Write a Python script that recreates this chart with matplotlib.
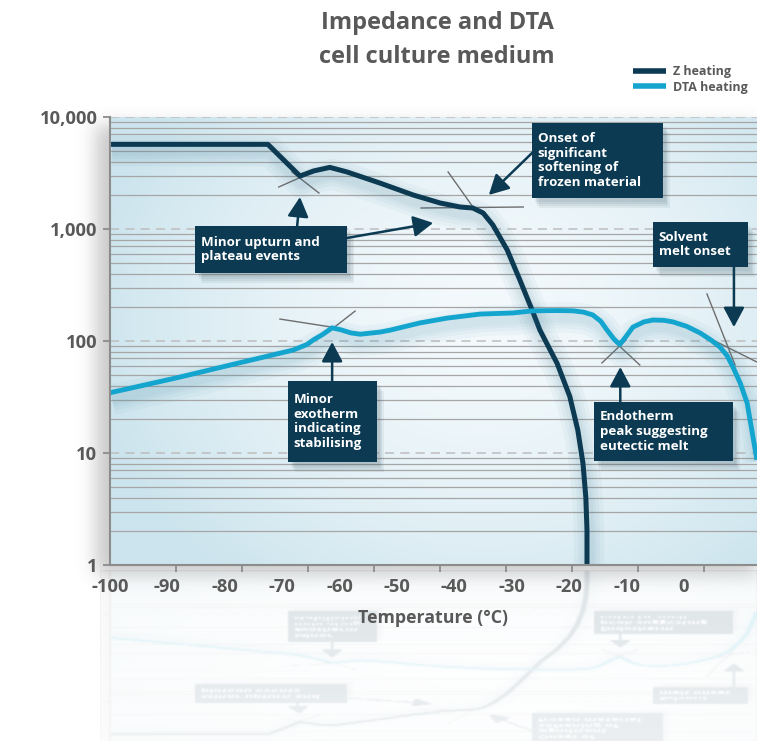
import numpy as np
import matplotlib
matplotlib.use("Agg")
import matplotlib.pyplot as plt
import matplotlib.patheffects as pe
from matplotlib.patches import Rectangle
from matplotlib.ticker import FixedLocator, FixedFormatter, NullFormatter

plt.rcParams['font.family'] = ['Open Sans', 'DejaVu Sans']
plt.rcParams['axes.unicode_minus'] = False

# ---- data -------------------------------------------------------------
z_temp = [-100, -72.5, -66.9, -64.5, -61.7, -58.7, -53.0, -47.2, -42.5, -39.0,
          -36.8, -35.0, -33.3, -30.8, -28.6, -26.3, -25.1, -22.1, -19.9, -18.5,
          -17.6, -17.1, -16.9, -16.9]
z_imp = [5700, 5700, 2970, 3300, 3550, 3230, 2575, 2014, 1708, 1572,
         1540, 1390, 1086, 650, 351, 180, 125, 63, 32, 16,
         8.1, 4.0, 2.05, 1.0]

dta_temp = [-100, -88.3, -76.8, -73.9, -68.1, -65.7, -64.6, -63.0, -61.3, -59.8,
            -58.0, -56.4, -53.0, -51.2, -46.0, -41.3, -35.5, -29.8, -26.3, -22.0,
            -19.3, -17.5, -15.9, -14.5, -13.4, -12.2, -11.2, -10.2, -8.9, -7.0,
            -5.4, -3.5, -1.9, 0.5, 2.8, 4.7, 6.3, 7.5, 8.5, 9.8,
            11.0, 12.7]
dta_sig = [34.5, 47, 65, 70.5, 83, 93, 102, 114, 131, 126,
           118, 115, 120, 125, 145, 160, 174, 178, 186, 187,
           186, 181, 171, 150, 125, 104, 93, 108, 133, 148,
           154, 153, 148, 135, 118, 102, 88, 74, 59, 42,
           28, 8.7]

x_ticks = [-100, -90, -80, -70, -60, -50, -40, -30, -20, -10, 0]
y_ticks = [1, 10, 100, 1000, 10000]
y_tick_labels = ['1', '10', '100', '1,000', '10,000']

NAVY = '#0b3a52'
CYAN = '#14a5cf'
GREY_TXT = '#595959'

# ---- figure / axes ----------------------------------------------------
W, H = 757, 741
fig = plt.figure(figsize=(W / 100, H / 100), dpi=100)
fig.patch.set_facecolor('white')

ax_l, ax_r, ax_t, ax_b = 110, 757, 117, 565
ax = fig.add_axes([ax_l / W, (H - ax_b) / H, (ax_r - ax_l) / W, (ax_b - ax_t) / H])
ax.set_yscale('log')
ax.set_xlim(-100, -100 + (ax_r - ax_l) / 5.74)
ax.set_ylim(1, 10000)

# soft radial backdrop of the plotting area
gy, gx = np.mgrid[0:1:300j, 0:1:400j]
d = np.sqrt(((gx - 0.58) / 0.62) ** 2 + ((gy - 0.45) / 0.75) ** 2)
d = np.clip(d, 0, 1) ** 1.6
c_in = np.array([0.955, 0.978, 0.988])
c_out = np.array([0.80, 0.895, 0.93])
grad = c_in[None, None, :] * (1 - d[..., None]) + c_out[None, None, :] * d[..., None]
ax.imshow(grad, extent=[0, 1, 0, 1], transform=ax.transAxes, aspect='auto',
          origin='upper', zorder=0, interpolation='bilinear')
ax.patch.set_visible(False)

# grid
ax.yaxis.set_major_locator(FixedLocator(y_ticks))
ax.yaxis.set_major_formatter(FixedFormatter(y_tick_labels))
minor_y = [m * 10 ** e for e in range(0, 4) for m in range(2, 10)]
ax.yaxis.set_minor_locator(FixedLocator(minor_y))
ax.yaxis.set_minor_formatter(NullFormatter())
ax.grid(which='minor', axis='y', color='#a6a6a6', lw=0.9, zorder=1)
ax.grid(which='major', axis='y', color='#bdbdbd', lw=1.1, ls=(0, (6, 4)), zorder=1)
ax.set_axisbelow(True)

ax.xaxis.set_major_locator(FixedLocator(x_ticks))
ax.xaxis.set_minor_locator(FixedLocator(list(np.arange(-100, 13, 11.5))))
ax.tick_params(axis='x', which='major', length=0, pad=9, labelsize=13.2,
               labelcolor=GREY_TXT)
ax.tick_params(axis='x', which='minor', length=5, width=1.3, color='#8c8c8c')
ax.tick_params(axis='y', which='major', length=5, width=1.3, color='#8c8c8c',
               pad=4, labelsize=13.2, labelcolor=GREY_TXT)
ax.tick_params(axis='y', which='minor', length=0)
for lab in ax.get_xticklabels() + ax.get_yticklabels():
    lab.set_fontweight('bold')

for s in ('top', 'right'):
    ax.spines[s].set_visible(False)
for s in ('left', 'bottom'):
    ax.spines[s].set_color('#8c8c8c')
    ax.spines[s].set_linewidth(1.5)
    ax.spines[s].set_zorder(4)

ax.set_xlabel('Temperature (°C)', fontsize=12.8, fontweight='bold',
              color=GREY_TXT, labelpad=9.5)


def soft_shadow(color, off):
    return [pe.SimpleLineShadow(offset=off, shadow_color=color, alpha=0.045,
                                rho=1.0, linewidth=w) for w in (22, 16, 11, 7)]


ln_z, = ax.plot(z_temp, z_imp, color=NAVY, lw=3.6, zorder=3,
                solid_joinstyle='round', solid_capstyle='butt',
                path_effects=soft_shadow('#2f6f8c', (1.5, -5)) + [pe.Normal()])
ln_d, = ax.plot(dta_temp, dta_sig, color=CYAN, lw=3.5, zorder=3,
                solid_joinstyle='round', solid_capstyle='butt',
                path_effects=soft_shadow('#2f7f9f', (1.5, -5)) + [pe.Normal()])

# tangent construction lines
tangents = [
    ((-70.6, 2371), (-65.9, 3035)), ((-63.6, 2096), (-68.3, 3230)),
    ((-41.1, 3230), (-36.4, 1479)), ((-45.8, 1540), (-28.0, 1572)),
    ((-70.4, 157), (-60.5, 131)), ((-57.3, 185), (-62.2, 118)),
    ((-14.3, 63.7), (-10.1, 102)), ((-7.7, 61.1), (-12.2, 100)),
    ((4.0, 263), (8.9, 61.1)), ((5.05, 102), (12.7, 64.9)),
]
for (x0, y0), (x1, y1) in tangents:
    ax.plot([x0, x1], [y0, y1], color='#6e6e6e', lw=1.0, zorder=2.5)

# callout boxes: text, (x0, x1, y_low, y_high), arrows [(from, to)]
callouts = [
    ('Minor upturn and\nplateau events', (-85.2, -58.7, 405, 1060),
     [((-67.4, 1060), (-66.9, 1930)), ((-58.7, 832), (-43.7, 1133))]),
    ('Onset of\nsignificant\nsoftening of\nfrozen material', (-26.5, -3.7, 1892, 8840),
     [((-26.3, 4870), (-34.0, 2014))]),
    ('Solvent\nmelt onset', (-5.4, 11.1, 458, 1155),
     [((8.7, 458), (8.7, 133))]),
    ('Minor\nexotherm\nindicating\nstabilising', (-69.0, -53.5, 8.3, 44),
     [((-61.3, 44), (-61.3, 98))]),
    ('Endotherm\npeak suggesting\neutectic melt', (-15.7, 8.5, 8.5, 28.5),
     [((-11.1, 28.5), (-11.1, 58.6))]),
]
box_shadow = [pe.SimplePatchShadow(offset=(2 + i, -3 - 1.5 * i), shadow_rgbFace='#2a4a5a',
                                   alpha=0.07) for i in range(4)] + [pe.Normal()]
for text, (x0, x1, y0, y1), arrows in callouts:
    r = Rectangle((x0, y0), x1 - x0, y1 - y0, facecolor=NAVY, edgecolor='none',
                  zorder=5, path_effects=box_shadow)
    ax.add_patch(r)
    ym = np.sqrt(y0 * y1)
    ax.text(x0 + 1.0, ym, text, color='white', fontsize=9.6, fontweight='bold',
            ha='left', va='center', linespacing=1.17, zorder=6)
    for (fx, fy), (tx, ty) in arrows:
        ax.annotate('', xy=(tx, ty), xytext=(fx, fy), zorder=6,
                    arrowprops=dict(arrowstyle='-|>,head_length=0.6,head_width=0.32',
                                    mutation_scale=20, color=NAVY, lw=1.8,
                                    shrinkA=0, shrinkB=0))

# title and legend
fig.text(437 / W, 1 - 29 / H, 'Impedance and DTA', ha='center', va='baseline',
         fontsize=17, fontweight='bold', color=GREY_TXT)
fig.text(437 / W, 1 - 63 / H, 'cell culture medium', ha='center', va='baseline',
         fontsize=17, fontweight='bold', color=GREY_TXT)
leg = fig.legend([ln_z, ln_d], ['Z heating', 'DTA heating'], loc='upper left',
                 bbox_to_anchor=(628 / W, 1 - 60 / H), frameon=False,
                 prop={'size': 9.0, 'weight': 'bold'}, handlelength=2.6,
                 handletextpad=0.6, labelspacing=0.2, borderaxespad=0)
for t in leg.get_texts():
    t.set_color(GREY_TXT)
for h in leg.legend_handles:
    h.set_path_effects([])
    h.set_linewidth(4)


def gblur(a, s):
    r = int(3 * s)
    k = np.exp(-0.5 * (np.arange(-r, r + 1) / s) ** 2)
    k /= k.sum()
    a = np.apply_along_axis(lambda m: np.convolve(m, k, mode='same'), 0, a)
    a = np.apply_along_axis(lambda m: np.convolve(m, k, mode='same'), 1, a)
    return a


# drop shadow behind the plotting panel
pad = 40
m = np.zeros((H + 2 * pad, W + 2 * pad))
m[ax_t + 8 + pad:ax_b + 10 + pad, ax_l - 14 + pad:W + pad] = 1.0
m = gblur(m, 9)[pad:-pad, pad:-pad]
sh = np.zeros((H, W, 4))
sh[..., :3] = 0.45
sh[..., 3] = m * 0.38
fig.figimage(sh, 0, 0, origin='upper', zorder=-2)

# faded mirror image of the panel below the axis
fig.canvas.draw()
buf = np.asarray(fig.canvas.buffer_rgba())[..., :3].astype(float) / 255.0
top_row, bot_row, left_col = ax_t - 5, ax_b + 1, 100
panel = buf[top_row:bot_row, left_col:, :][::-1]
scale = 0.39
nh = int(panel.shape[0] * scale)
rows = np.linspace(0, panel.shape[0] - 1, nh).astype(int)
refl = panel[rows]
refl = np.stack([gblur(refl[..., c], 0.8) for c in range(3)], axis=-1)
start = 570
fade = np.linspace(0.14, 0.08, nh)[:, None]
rgba = np.zeros((nh, refl.shape[1], 4))
rgba[..., :3] = refl
rgba[..., 3] = fade
fig.figimage(rgba, left_col, H - start - nh, origin='upper', zorder=-1)

fig.savefig('out.png', dpi=100)
